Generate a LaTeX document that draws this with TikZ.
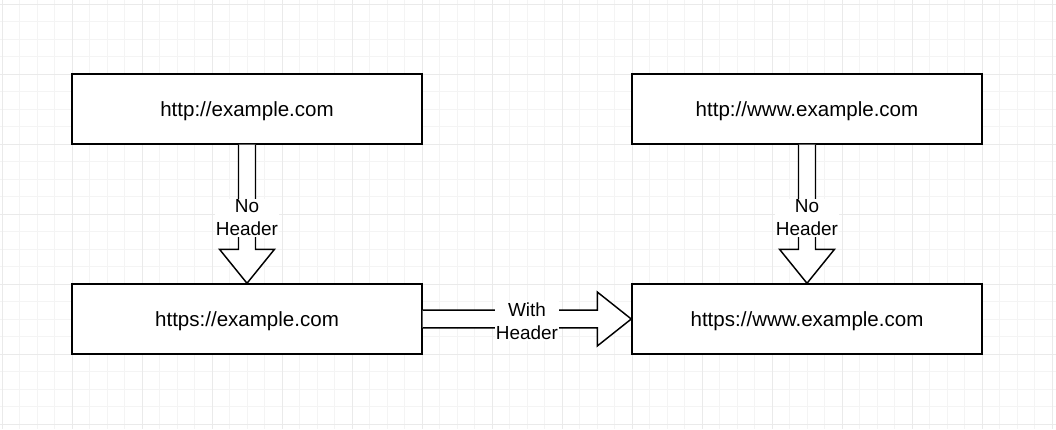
\documentclass[tikz,border=0pt]{standalone}
\usepackage{fontspec}
\setmainfont{Liberation Sans}
\usetikzlibrary{positioning,calc}
\definecolor{gridminor}{HTML}{F4F4F4}
\definecolor{gridmajor}{HTML}{EAEAEA}
\tikzset{
  urlbox/.style  ={draw, line width=1.1pt, fill=white, minimum width=262.5pt,
                   minimum height=52.5pt, inner sep=0pt, text depth=0pt,
                   font=\fontsize{15.4}{18}\selectfont},
  hollow/.style  ={draw, line width=1.1pt, fill=white, line join=miter},
  arrlabel/.style={fill=white, inner sep=1pt, align=center,
                   font=\fontsize{14.2}{17.25}\selectfont},
}
\begin{document}
\begin{tikzpicture}[x=0.75pt,y=-0.75pt]
    \useasboundingbox (0,0) rectangle (1056,429);
    % background grid
    \foreach \i in {0,...,60}
        \draw[gridminor, line width=0.75pt] ({2+17.5*\i},0) -- ({2+17.5*\i},429);
    \foreach \j in {0,...,24}
        \draw[gridminor, line width=0.75pt] (0,{4+17.5*\j}) -- (1056,{4+17.5*\j});
    \foreach \i in {0,...,15}
        \draw[gridmajor, line width=0.75pt] ({2+70*\i},0) -- ({2+70*\i},429);
    \foreach \j in {0,...,6}
        \draw[gridmajor, line width=0.75pt] (0,{4+70*\j}) -- (1056,{4+70*\j});
    % url boxes
    \node[urlbox] (plain)     at (247,109) {http://example.com};
    \node[urlbox] (plainwww)  at (807,109) {http://www.example.com};
    \node[urlbox] (secure)    at (247,319) {https://example.com};
    \node[urlbox] (securewww) at (807,319) {https://www.example.com};
    % redirect arrows
    \draw[hollow] ($(plain.south)+(-8.5,0)$) -- ($(secure.north)+(-8.5,-34)$)
        -- ($(secure.north)+(-27.5,-34)$) -- (secure.north)
        -- ($(secure.north)+(27.5,-34)$) -- ($(secure.north)+(8.5,-34)$)
        -- ($(plain.south)+(8.5,0)$);
    \draw[hollow] ($(plainwww.south)+(-8.5,0)$) -- ($(securewww.north)+(-8.5,-34)$)
        -- ($(securewww.north)+(-27.5,-34)$) -- (securewww.north)
        -- ($(securewww.north)+(27.5,-34)$) -- ($(securewww.north)+(8.5,-34)$)
        -- ($(plainwww.south)+(8.5,0)$);
    \draw[hollow] ($(secure.east)+(0,-8.8)$) -- ($(securewww.west)+(-34,-8.8)$)
        -- ($(securewww.west)+(-34,-27)$) -- (securewww.west)
        -- ($(securewww.west)+(-34,27)$) -- ($(securewww.west)+(-34,8.8)$)
        -- ($(secure.east)+(0,8.8)$);
    % labels
    \node[arrlabel] (nohdr)    at ($(plain.south)!0.5!(secure.north)+(0,4)$) {No\\Header};
    \node[arrlabel] (nohdrwww) at ($(plainwww.south)!0.5!(securewww.north)+(0,4)$) {No\\Header};
    \node[arrlabel] (withhdr)  at ($(secure.east)!0.5!(securewww.west)+(0,2)$) {With\\Header};
\end{tikzpicture}
\end{document}
